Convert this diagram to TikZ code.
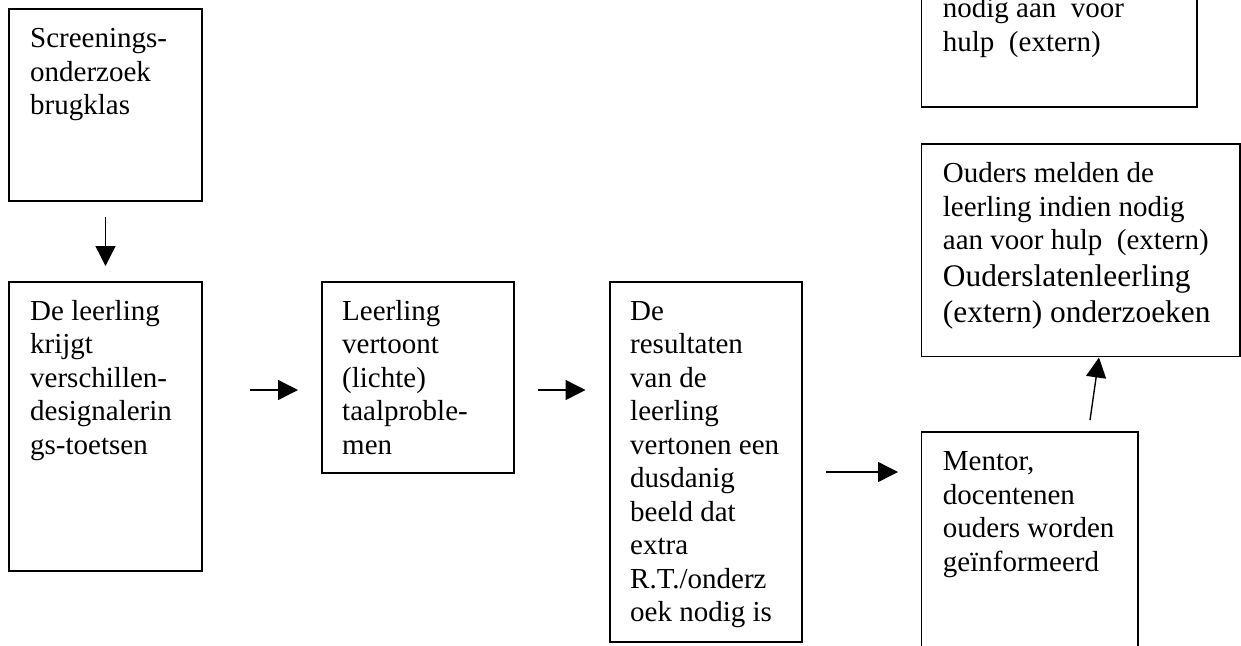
\documentclass[tikz,border=0pt]{standalone}
\usepackage{fontspec}
\setmainfont{Liberation Serif}
\usetikzlibrary{arrows.meta}
\tikzset{
  box/.style={draw, line width=1.5pt, inner sep=0pt, outer sep=0pt, anchor=north west},
  txt/.style={anchor=north west, inner sep=0pt, align=left, font=\fontsize{29}{33.5}\selectfont},
  arr/.style={line width=1.4pt, -{Triangle[length=20pt,width=20pt]}},
}
\newcommand{\bigline}{\fontsize{31.4}{36.1}\selectfont}
\begin{document}
\begin{tikzpicture}[x=1pt,y=-1pt]
\useasboundingbox (0,0) rectangle (1241,645);
\clip (0,0) rectangle (1241,645);
% boxes
\node[box, minimum width=193pt, minimum height=192pt] (b1) at (9,9) {};
\node[box, minimum width=193pt, minimum height=289pt] (b2) at (9,282) {};
\node[box, minimum width=192pt, minimum height=191pt] (b3) at (322,282) {};
\node[box, minimum width=192pt, minimum height=360pt] (b4) at (610,282) {};
\node[box, minimum width=216.3pt, minimum height=260pt] (b5) at (921.7,432) {};
\node[box, minimum width=318.3pt, minimum height=212.5pt] (b6) at (921.7,144) {};
\node[box, minimum width=275.3pt, minimum height=147pt] (b0) at (921.7,-40) {};
% texts
\node[txt] (t1) at ([shift={(21,15)}]b1.north west) {\strut Screenings-\\onderzoek\\brugklas};
\node[txt] (t2) at ([shift={(21,14.5)}]b2.north west) {\strut De leerling\\krijgt\\verschillen-\\designalerin\\gs-toetsen};
\node[txt] (t3) at ([shift={(20,14.5)}]b3.north west) {\strut Leerling\\vertoont\\(lichte)\\taalproble-\\men};
\node[txt] (t4) at ([shift={(20,14.5)}]b4.north west) {\strut De\\resultaten\\van de\\leerling\\vertonen een\\dusdanig\\beeld dat\\extra\\R.T./onderz\\oek nodig is};
\node[txt] (t5) at ([shift={(21,15)}]b5.north west) {\strut Mentor,\\docentenen\\ouders worden\\geïnformeerd};
\node[txt] (t6) at ([shift={(21,15.3)}]b6.north west) {\strut Ouders melden de\\leerling indien nodig\\aan voor hulp~ (extern)\\[2.6pt]{\bigline Ouderslatenleerling}\\[2.7pt]{\bigline (extern) onderzoeken}};
\node[txt] (t0) at ([shift={(21,33.9)}]b0.north west) {\strut nodig aan~ voor\\hulp~ (extern)};
% connectors
\draw[arr, shorten <=16pt, shorten >=16pt] (b1.south) -- (b2.north);
\draw[arr, shorten <=47.5pt, shorten >=24pt] ([yshift=-108pt]b2.north east) -- ([yshift=-108pt]b3.north west);
\draw[arr, shorten <=23.7pt, shorten >=24.5pt] ([yshift=-108pt]b3.north east) -- ([yshift=-108pt]b4.north west);
\draw[arr, shorten <=24pt, shorten >=23.7pt] ([yshift=-190pt]b4.north east) -- ([yshift=-40pt]b5.north west);
\draw[arr, shorten <=12pt, shorten >=1pt] ([xshift=166.6pt]b5.north west) -- ([xshift=177.4pt]b6.south west);
\end{tikzpicture}
\end{document}
